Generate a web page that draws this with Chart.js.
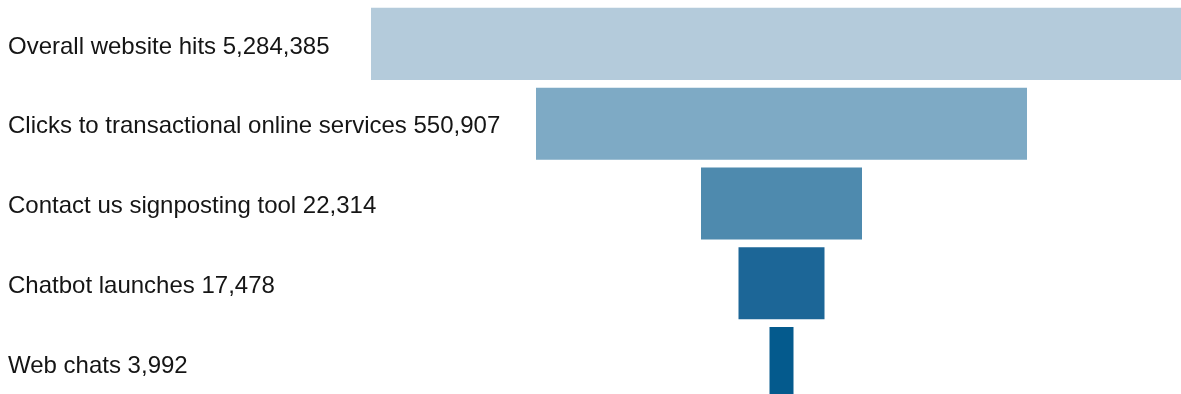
<!DOCTYPE html>
<html>
<head>
<meta charset="utf-8">
<script src="https://cdn.jsdelivr.net/npm/chart.js@4"></script>
<style>
  html, body { margin: 0; padding: 0; background: #fff; overflow: hidden; }
  #wrap { position: relative; width: 1200px; height: 404px; }
</style>
</head>
<body>
<div id="wrap"><canvas id="funnelChart"></canvas></div>
<script>
// Funnel stages
const stages = [
  'Overall website hits',
  'Clicks to transactional online services',
  'Contact us signposting tool',
  'Chatbot launches',
  'Web chats'
];
const counts = [5284385, 550907, 22314, 17478, 3992];
// Drawn width of each funnel step (not to scale with the counts)
const funnelWidths = [821, 491, 161, 86, 24];
const stageColors = ['#b4cbdb', '#7eaac5', '#4e8aae', '#1c6697', '#045a8d'];

const ctx = document.getElementById('funnelChart').getContext('2d');

const funnelChart = new Chart(ctx, {
  type: 'bar',
  data: {
    labels: stages.map((s, i) => s + ' ' + counts[i].toLocaleString('en-US')),
    datasets: [{
      data: funnelWidths.map(w => [-w / 2, w / 2]),
      backgroundColor: stageColors,
      borderWidth: 0,
      barPercentage: 0.903,
      categoryPercentage: 1
    }]
  },
  options: {
    indexAxis: 'y',
    responsive: true,
    maintainAspectRatio: false,
    animation: false,
    layout: { padding: { left: 8, top: 4, bottom: 1, right: 0 } },
    scales: {
      // funnel axis is centred at 0, left side is longer to leave room for the labels
      x: {
        display: false,
        min: -773.5,
        max: 418.5
      },
      y: {
        afterFit: (scale) => {
          scale.width = 0;
          scale.paddingTop = 0;
          scale.paddingBottom = 0;
        },
        grid: { display: false, drawTicks: false },
        border: { display: false },
        ticks: {
          mirror: true,
          padding: 0,
          labelOffset: 3,
          color: '#151515',
          font: { family: 'Liberation Sans, Arial, sans-serif', size: 24 }
        }
      }
    },
    plugins: {
      legend: { display: false },
      tooltip: { enabled: false }
    }
  }
});
</script>
</body>
</html>
